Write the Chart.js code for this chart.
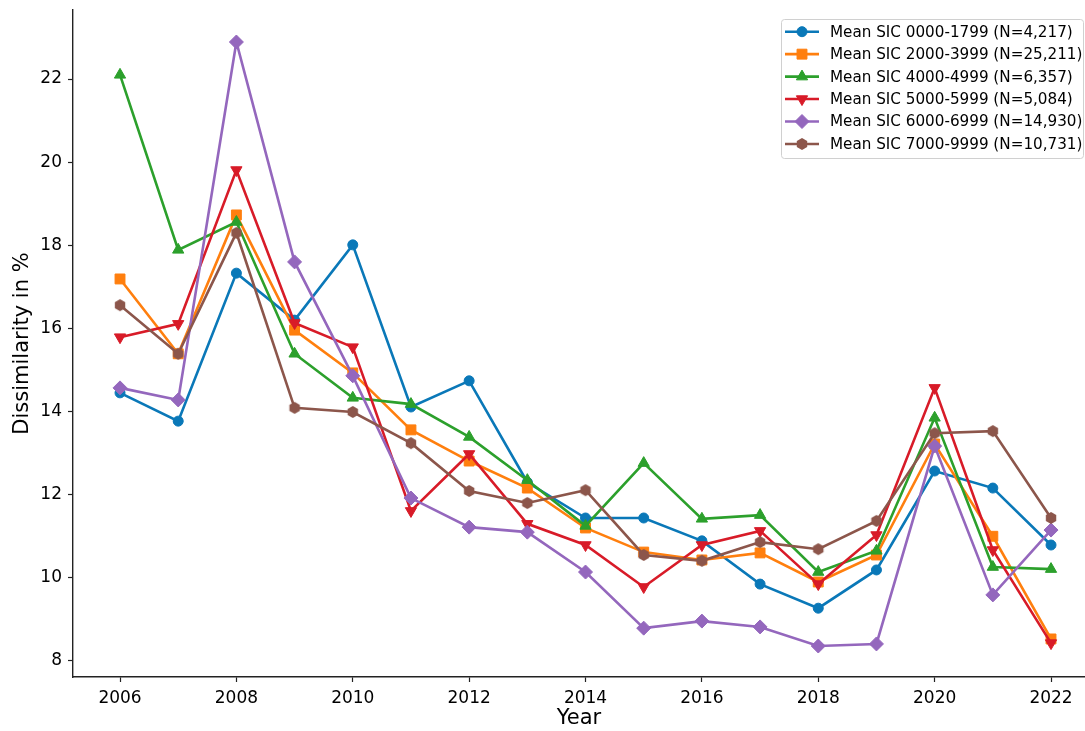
<!DOCTYPE html>
<html>
<head>
<meta charset="utf-8">
<title>Dissimilarity by SIC group</title>
<script src="https://cdn.jsdelivr.net/npm/chart.js@4.4.1/dist/chart.umd.min.js"></script>
<style>
    html, body { margin: 0; padding: 0; background: #fff; overflow: hidden; }
    #wrap { width: 1085px; height: 731px; }
</style>
</head>
<body>
<div id="wrap"><canvas id="chart" width="1085" height="731"></canvas></div>
<script>
(function () {
    'use strict';

    var YEARS = [2006, 2007, 2008, 2009, 2010, 2011, 2012, 2013, 2014,
                 2015, 2016, 2017, 2018, 2019, 2020, 2021, 2022];

    // Values
    var SIC_0000_1799 = [14.45, 13.77, 17.33, 16.2, 18.01, 14.11, 14.74, 12.3, 11.44,
                         11.44, 10.89, 9.85, 9.27, 10.19, 12.57, 12.16, 10.79];
    var SIC_2000_3999 = [17.19, 15.39, 18.73, 15.96, 14.93, 13.56, 12.81, 12.16, 11.2,
                         10.62, 10.43, 10.6, 9.9, 10.55, 13.22, 11.0, 8.53];
    var SIC_4000_4999 = [22.1, 17.89, 18.56, 15.39, 14.33, 14.18, 13.39, 12.35, 11.25,
                         12.76, 11.42, 11.51, 10.14, 10.65, 13.85, 10.26, 10.21];
    var SIC_5000_5999 = [15.79, 16.11, 19.81, 16.13, 15.55, 11.61, 12.98, 11.3, 10.79,
                         9.78, 10.79, 11.13, 9.85, 11.03, 14.57, 10.67, 8.43];
    var SIC_6000_6999 = [14.57, 14.28, 22.89, 17.6, 14.86, 11.92, 11.22, 11.1, 10.14,
                         8.79, 8.96, 8.82, 8.36, 8.41, 13.17, 9.59, 11.15];
    var SIC_7000_9999 = [16.56, 15.39, 18.3, 14.09, 13.99, 13.24, 12.09, 11.8, 12.11,
                         10.55, 10.41, 10.86, 10.69, 11.37, 13.48, 13.53, 11.44];

    var SERIES_VALUES = [SIC_0000_1799, SIC_2000_3999, SIC_4000_4999,
                         SIC_5000_5999, SIC_6000_6999, SIC_7000_9999];
    var SERIES_LABELS = [
        'Mean SIC 0000-1799 (N=4,217)',
        'Mean SIC 2000-3999 (N=25,211)',
        'Mean SIC 4000-4999 (N=6,357)',
        'Mean SIC 5000-5999 (N=5,084)',
        'Mean SIC 6000-6999 (N=14,930)',
        'Mean SIC 7000-9999 (N=10,731)',
    ];
    var SERIES_COLORS = ['#0a78b8', '#ff7f0e', '#2ca02c', '#d81b28', '#9467bd', '#8c564b'];

    var X_TICKS = [2006, 2008, 2010, 2012, 2014, 2016, 2018, 2020, 2022];
    var Y_TICKS = [8, 10, 12, 14, 16, 18, 20, 22];

    var FONT = "'DejaVu Sans', 'Liberation Sans', sans-serif";

    /**
     * Hexagon marker (matplotlib 'h') as a small canvas for pointStyle.
     */
    function hexagonMarker(color, r) {
        var size = 14;
        var c = document.createElement('canvas');
        c.width = size;
        c.height = size;
        var g = c.getContext('2d');
        g.beginPath();
        for (var i = 0; i < 6; i++) {
            var a = Math.PI / 3 * i - Math.PI / 2;
            var px = size / 2 + r * Math.cos(a);
            var py = size / 2 + r * Math.sin(a);
            if (i === 0) g.moveTo(px, py); else g.lineTo(px, py);
        }
        g.closePath();
        g.fillStyle = color;
        g.fill();
        return c;
    }

    var MARKERS = [
        { style: 'circle', radius: 5, rotation: 0 },
        { style: 'rect', radius: 7, rotation: 0 },
        { style: 'triangle', radius: 6.5, rotation: 0 },
        { style: 'triangle', radius: 6.5, rotation: 180 },
        { style: 'rectRot', radius: 7, rotation: 0 },
        { style: hexagonMarker(SERIES_COLORS[5], 6), radius: 6, rotation: 0 },
    ];

    var datasets = SERIES_VALUES.map(function (values, i) {
        return {
            label: SERIES_LABELS[i],
            data: values.map(function (v, j) { return { x: YEARS[j], y: v }; }),
            borderColor: SERIES_COLORS[i],
            backgroundColor: SERIES_COLORS[i],
            borderWidth: 2.6,
            pointStyle: MARKERS[i].style,
            pointRadius: MARKERS[i].radius,
            pointRotation: MARKERS[i].rotation,
            pointBorderWidth: 1,
            pointBorderColor: SERIES_COLORS[i],
            pointBackgroundColor: SERIES_COLORS[i],
            tension: 0,
            order: SERIES_VALUES.length - i,
        };
    });

    // Matplotlib-like framed legend in the upper right of the plot
    var frameLegend = {
        id: 'frameLegend',
        afterDraw: function (chart) {
            var ctx = chart.ctx;
            var x0 = 781, y0 = 19, w = 302, h = 139;
            ctx.save();
            ctx.beginPath();
            ctx.roundRect(x0 + 0.5, y0 + 0.5, w, h, 3);
            ctx.fillStyle = 'rgba(255,255,255,0.8)';
            ctx.fill();
            ctx.strokeStyle = '#d0d0d0';
            ctx.lineWidth = 1;
            ctx.stroke();

            ctx.font = '15.2px ' + FONT;
            ctx.textBaseline = 'middle';
            ctx.textAlign = 'left';
            SERIES_LABELS.forEach(function (label, i) {
                var cy = 31.7 + i * 22.45;
                var color = SERIES_COLORS[i];
                ctx.strokeStyle = color;
                ctx.lineWidth = 2.6;
                ctx.beginPath();
                ctx.moveTo(785, cy);
                ctx.lineTo(819, cy);
                ctx.stroke();
                ctx.fillStyle = color;
                ctx.lineWidth = 1;
                Chart.helpers.drawPoint(ctx, {
                    pointStyle: MARKERS[i].style,
                    rotation: MARKERS[i].rotation,
                    radius: MARKERS[i].radius,
                    borderWidth: 1,
                }, 802, cy);
                ctx.fillStyle = '#000';
                ctx.fillText(label, 830, cy + 1);
            });
            ctx.restore();
        },
    };

    function noLabelPadding(scale) {
        scale.paddingTop = 0;
        scale.paddingBottom = 0;
        scale.paddingLeft = 0;
        scale.paddingRight = 0;
    }

    new Chart(document.getElementById('chart'), {
        type: 'line',
        data: { datasets: datasets },
        plugins: [frameLegend],
        options: {
            responsive: false,
            animation: false,
            devicePixelRatio: 1,
            layout: { autoPadding: false, padding: { top: 10, right: 0, bottom: 0, left: 0 } },
            plugins: {
                legend: { display: false },
                tooltip: { enabled: false },
            },
            scales: {
                x: {
                    type: 'linear',
                    min: 2005.192,
                    max: 2022.584,
                    afterBuildTicks: function (axis) {
                        axis.ticks = X_TICKS.map(function (v) { return { value: v }; });
                    },
                    afterFit: function (scale) {
                        scale.height = 54;
                        noLabelPadding(scale);
                    },
                    grid: { drawOnChartArea: false, tickLength: 5, tickColor: '#222', tickWidth: 1.2 },
                    border: { color: '#222', width: 1.4 },
                    ticks: {
                        color: '#000',
                        font: { family: FONT, size: 17 },
                        padding: 6,
                        maxRotation: 0,
                        autoSkip: false,
                        callback: function (v) { return String(v); },
                    },
                    title: {
                        display: true,
                        text: 'Year',
                        color: '#000',
                        font: { family: FONT, size: 21 },
                        padding: { top: 0, bottom: 0 },
                    },
                },
                y: {
                    min: 7.615,
                    max: 23.66,
                    afterBuildTicks: function (axis) {
                        axis.ticks = Y_TICKS.map(function (v) { return { value: v }; });
                    },
                    afterFit: function (scale) {
                        scale.width = 73;
                        noLabelPadding(scale);
                    },
                    grid: { drawOnChartArea: false, tickLength: 5, tickColor: '#222', tickWidth: 1.2 },
                    border: { color: '#222', width: 1.4 },
                    ticks: {
                        color: '#000',
                        font: { family: FONT, size: 17 },
                        padding: 6,
                        autoSkip: false,
                        callback: function (v) { return String(v); },
                    },
                    title: {
                        display: true,
                        text: 'Dissimilarity in %',
                        color: '#000',
                        font: { family: FONT, size: 21 },
                        padding: { top: 10, bottom: 0 },
                    },
                },
            },
        },
    });
})();
</script>
</body>
</html>
